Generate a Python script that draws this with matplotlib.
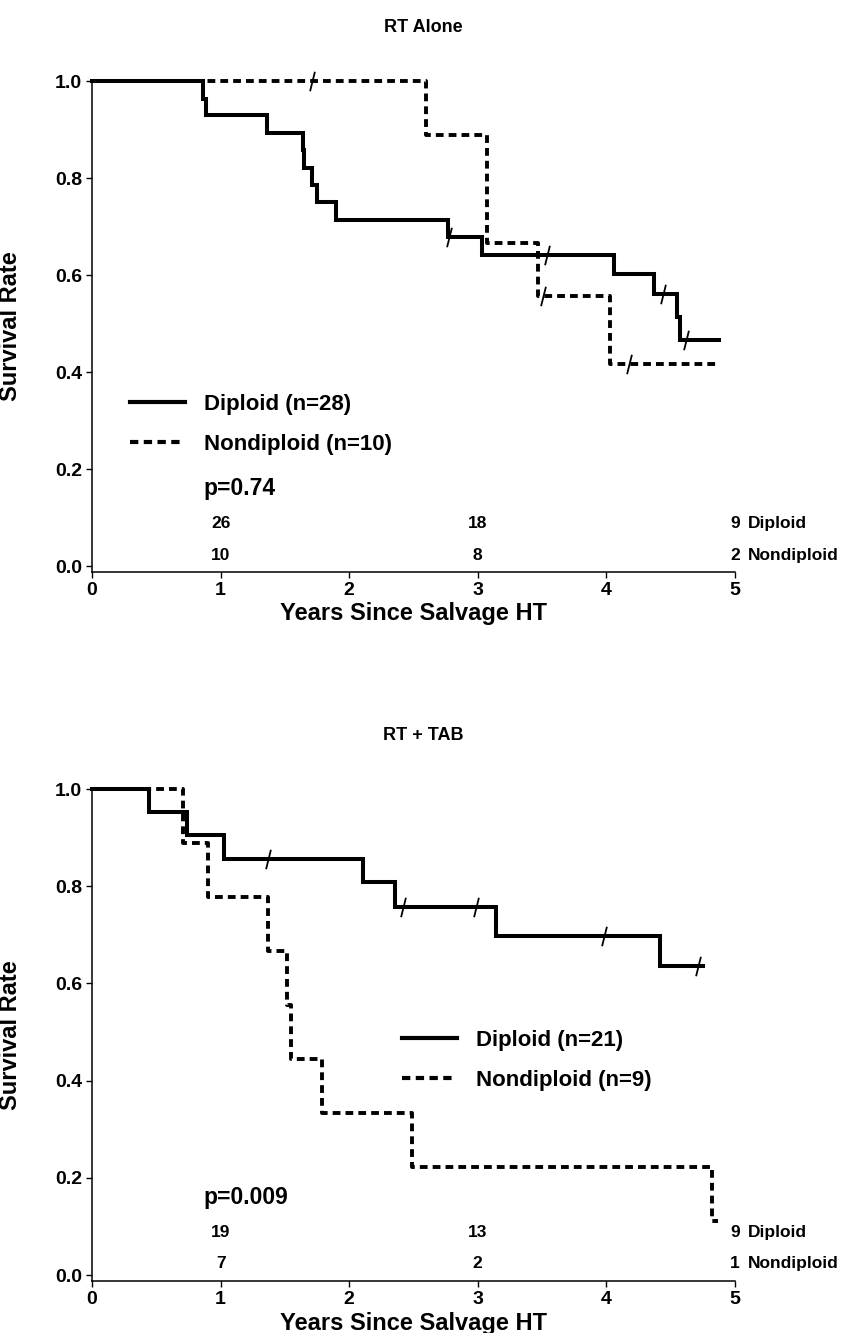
import matplotlib
matplotlib.use('Agg')
import matplotlib.pyplot as plt
from matplotlib.path import Path

plt.rcParams['font.family'] = ['Liberation Sans', 'DejaVu Sans']
plt.rcParams['font.weight'] = 'bold'

# RT alone
rt_dip_t = [0, 0.86, 0.89, 1.36, 1.64, 1.65, 1.71, 1.75, 1.90, 2.77, 3.03, 4.06, 4.37, 4.55, 4.57, 4.88]
rt_dip_s = [1.0, 0.964, 0.929, 0.893, 0.857, 0.821, 0.786, 0.750, 0.714, 0.679, 0.641, 0.602, 0.561, 0.514, 0.466, 0.466]
rt_dip_cens_t = [2.78, 3.54, 4.44, 4.62]
rt_dip_cens_s = [0.679, 0.641, 0.561, 0.466]
rt_non_t = [0, 2.60, 3.07, 3.47, 4.03, 4.85]
rt_non_s = [1.0, 0.889, 0.667, 0.556, 0.417, 0.417]
rt_non_cens_t = [1.71, 3.51, 4.18]
rt_non_cens_s = [1.0, 0.556, 0.417]
rt_risk_dip = [26, 18, 9]
rt_risk_non = [10, 8, 2]

# RT + TAB
tab_dip_t = [0, 0.44, 0.74, 1.03, 2.11, 2.36, 3.14, 4.42, 4.75]
tab_dip_s = [1.0, 0.952, 0.905, 0.857, 0.808, 0.757, 0.698, 0.636, 0.636]
tab_dip_cens_t = [1.37, 2.42, 2.99, 3.98, 4.71]
tab_dip_cens_s = [0.857, 0.757, 0.757, 0.698, 0.636]
tab_non_t = [0, 0.71, 0.90, 1.37, 1.52, 1.55, 1.79, 2.49, 4.82, 4.87]
tab_non_s = [1.0, 0.889, 0.778, 0.667, 0.556, 0.444, 0.333, 0.222, 0.111, 0.111]
tab_risk_dip = [19, 13, 9]
tab_risk_non = [7, 2, 1]

risk_years = [1, 3, 5]

censor_marker = Path([(-0.25, -1), (0.25, 1)], [Path.MOVETO, Path.LINETO])
dash = (0, (2.0, 1.3))


def km_panel(ax, dip_t, dip_s, non_t, non_s, dip_ct, dip_cs, non_ct, non_cs,
             n_dip, n_non, pval, risk_dip, risk_non, leg_anchor):
    ax.step(dip_t, dip_s, where='post', color='black', lw=2.9,
            solid_joinstyle='miter', clip_on=False, label=f'Diploid (n={n_dip})', zorder=3)
    ax.step(non_t, non_s, where='post', color='black', lw=2.8, linestyle=dash,
            clip_on=False, label=f'Nondiploid (n={n_non})', zorder=2)
    ax.plot(dip_ct, dip_cs, linestyle='none', marker=censor_marker, markersize=14,
            markeredgewidth=1.3, color='black', clip_on=False, zorder=4)
    if non_ct:
        ax.plot(non_ct, non_cs, linestyle='none', marker=censor_marker, markersize=14,
                markeredgewidth=1.3, color='black', clip_on=False, zorder=4)

    ax.set_xlim(0, 5)
    ax.set_ylim(-0.012, 1.0)
    ax.set_xticks(range(6))
    ax.set_yticks([0, 0.2, 0.4, 0.6, 0.8, 1.0])
    ax.set_yticklabels(['0.0', '0.2', '0.4', '0.6', '0.8', '1.0'])
    ax.tick_params(labelsize=14, length=4, width=1, pad=3)
    for s in ['top', 'right']:
        ax.spines[s].set_visible(False)
    for s in ['left', 'bottom']:
        ax.spines[s].set_linewidth(1.1)

    ax.set_xlabel('Years Since Salvage HT', fontsize=17, fontweight='bold')
    ax.xaxis.set_label_coords(0.5, -0.062)
    ax.set_ylabel('Survival Rate', fontsize=17, fontweight='bold')
    ax.yaxis.set_label_coords(-0.109, 0.5)

    leg = ax.legend(loc='upper left', bbox_to_anchor=leg_anchor, frameon=False,
                    fontsize=16, handlelength=2.5, handletextpad=0.85,
                    labelspacing=0.85, borderpad=0, borderaxespad=0)
    for line in leg.get_lines():
        line.set_linewidth(3.0)

    ax.text(0.87, 0.16, pval, fontsize=16.5, fontweight='bold', ha='left', va='center')
    for x, d, n in zip(risk_years, risk_dip, risk_non):
        ax.text(x, 0.088, str(d), fontsize=12.5, fontweight='bold', ha='center', va='center')
        ax.text(x, 0.023, str(n), fontsize=12.5, fontweight='bold', ha='center', va='center')
    ax.text(5.1, 0.088, 'Diploid', fontsize=12.5, fontweight='bold', ha='left', va='center')
    ax.text(5.1, 0.023, 'Nondiploid', fontsize=12.5, fontweight='bold', ha='left', va='center')


fig = plt.figure(figsize=(8.48, 13.33), dpi=100)
ax1 = fig.add_axes([0.1085, 0.5709, 0.758, 0.3683])
ax2 = fig.add_axes([0.1085, 0.0390, 0.758, 0.3691])

km_panel(ax1, rt_dip_t, rt_dip_s, rt_non_t, rt_non_s, rt_dip_cens_t, rt_dip_cens_s,
         rt_non_cens_t, rt_non_cens_s, 28, 10, 'p=0.74', rt_risk_dip, rt_risk_non,
         (0.059, 0.362))
km_panel(ax2, tab_dip_t, tab_dip_s, tab_non_t, tab_non_s, tab_dip_cens_t, tab_dip_cens_s,
         [], [], 21, 9, 'p=0.009', tab_risk_dip, tab_risk_non,
         (0.482, 0.510))

fig.text(423 / 848, 1 - 28 / 1333, 'RT Alone', fontsize=13, fontweight='bold',
         ha='center', va='center')
fig.text(423 / 848, 1 - 736 / 1333, 'RT + TAB', fontsize=13, fontweight='bold',
         ha='center', va='center')

fig.savefig('out.png', dpi=100)
